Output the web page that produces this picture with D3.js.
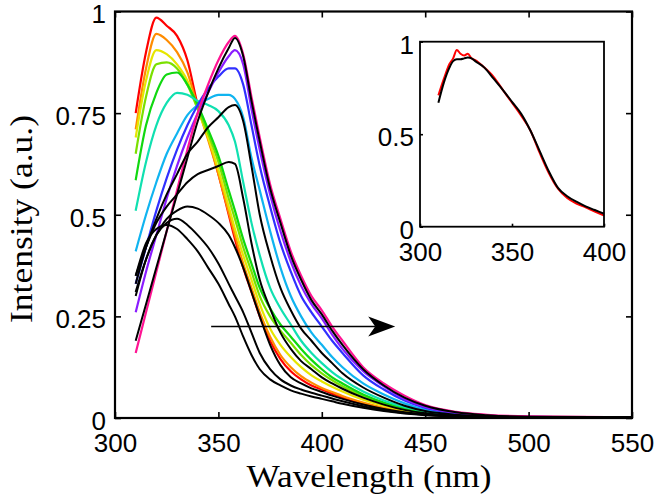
<!DOCTYPE html>
<html><head><meta charset="utf-8">
<script src="https://cdn.jsdelivr.net/npm/d3@7"></script>
<style>body{margin:0;background:#fff}svg{display:block}</style>
</head><body>
<svg id="c" width="657" height="500"></svg>
<script>
// ---------- data ----------
const wavelengths = [310,315,320,325,330,335,340,345,350,355,358,362,366,370,375,380,385,390,395,400,405,410,420,430,440,450,465,480,500,550];
const xTicks = [300,350,400,450,500,550];
const yTicks = [0,0.25,0.5,0.75,1];
const yTickLabels = ["0","0.25","0.5","0.75","1"];

const red     = [0.75,0.90,0.985,0.965,0.94,0.88,0.77,0.69,0.60,0.50,0.44,0.37,0.31,0.25,0.19,0.145,0.115,0.095,0.08,0.07,0.06,0.05,0.035,0.022,0.014,0.009,0.005,0.003,0.002,0.001];
const orange  = [0.71,0.86,0.945,0.93,0.90,0.85,0.765,0.685,0.60,0.505,0.45,0.38,0.32,0.26,0.20,0.155,0.125,0.103,0.087,0.074,0.064,0.054,0.038,0.025,0.016,0.010,0.006,0.003,0.002,0.001];
const yellow  = [0.69,0.83,0.905,0.895,0.87,0.83,0.76,0.69,0.61,0.52,0.465,0.40,0.34,0.28,0.22,0.18,0.15,0.125,0.105,0.09,0.077,0.065,0.045,0.030,0.019,0.012,0.006,0.003,0.002,0.001];
const green1  = [0.65,0.79,0.87,0.875,0.86,0.82,0.76,0.70,0.63,0.54,0.49,0.42,0.36,0.30,0.25,0.215,0.185,0.155,0.13,0.11,0.093,0.078,0.054,0.035,0.022,0.014,0.007,0.004,0.002,0.001];
const green2  = [0.585,0.72,0.80,0.845,0.85,0.82,0.77,0.71,0.645,0.56,0.51,0.44,0.38,0.32,0.27,0.23,0.20,0.17,0.143,0.12,0.10,0.085,0.058,0.038,0.024,0.015,0.008,0.004,0.002,0.001];
const aqua    = [0.51,0.63,0.72,0.775,0.80,0.795,0.78,0.77,0.755,0.72,0.68,0.58,0.48,0.40,0.32,0.27,0.23,0.19,0.16,0.135,0.113,0.095,0.065,0.043,0.027,0.017,0.009,0.004,0.002,0.001];
const sky     = [0.41,0.50,0.58,0.65,0.70,0.745,0.77,0.785,0.795,0.795,0.785,0.74,0.64,0.56,0.46,0.37,0.30,0.25,0.21,0.18,0.15,0.125,0.085,0.058,0.036,0.020,0.010,0.005,0.002,0.001];
const blue    = [0.33,0.42,0.51,0.59,0.66,0.72,0.77,0.81,0.84,0.86,0.86,0.82,0.72,0.62,0.52,0.43,0.36,0.30,0.26,0.225,0.19,0.16,0.105,0.07,0.043,0.025,0.012,0.006,0.003,0.001];
const purple  = [0.26,0.36,0.45,0.54,0.62,0.69,0.75,0.80,0.85,0.89,0.905,0.87,0.76,0.66,0.55,0.46,0.385,0.325,0.28,0.245,0.205,0.17,0.115,0.078,0.047,0.027,0.013,0.006,0.003,0.001];
const magenta = [0.16,0.26,0.36,0.46,0.56,0.66,0.75,0.82,0.88,0.925,0.94,0.895,0.79,0.69,0.575,0.49,0.41,0.35,0.30,0.265,0.225,0.19,0.125,0.085,0.055,0.032,0.015,0.008,0.004,0.002];
const black1  = [0.19,0.28,0.37,0.46,0.55,0.64,0.73,0.80,0.86,0.91,0.935,0.89,0.78,0.68,0.565,0.48,0.40,0.34,0.29,0.255,0.215,0.18,0.12,0.08,0.05,0.03,0.014,0.007,0.003,0.002];
const black2  = [0.33,0.42,0.49,0.55,0.60,0.65,0.68,0.715,0.74,0.765,0.77,0.73,0.62,0.50,0.40,0.32,0.265,0.22,0.19,0.16,0.135,0.11,0.075,0.05,0.03,0.017,0.008,0.004,0.002,0.001];
const black3  = [0.35,0.42,0.48,0.52,0.55,0.58,0.60,0.61,0.62,0.63,0.625,0.54,0.43,0.34,0.27,0.21,0.17,0.14,0.12,0.10,0.085,0.072,0.05,0.033,0.02,0.012,0.006,0.003,0.002,0.001];
const black4  = [0.31,0.39,0.45,0.49,0.51,0.52,0.515,0.50,0.48,0.45,0.42,0.37,0.31,0.25,0.18,0.13,0.10,0.085,0.073,0.064,0.055,0.047,0.033,0.022,0.014,0.009,0.005,0.003,0.002,0.001];
const black5  = [0.30,0.39,0.45,0.48,0.49,0.475,0.45,0.42,0.38,0.33,0.30,0.26,0.21,0.16,0.12,0.095,0.08,0.07,0.062,0.055,0.048,0.041,0.029,0.019,0.012,0.008,0.004,0.002,0.001,0.001];
const black6  = [0.35,0.43,0.465,0.475,0.465,0.44,0.41,0.37,0.33,0.28,0.25,0.20,0.155,0.12,0.095,0.08,0.068,0.06,0.053,0.047,0.041,0.035,0.025,0.017,0.011,0.007,0.004,0.002,0.001,0.001];

const colouredSeries = [red, orange, yellow, green1, green2, aqua, sky, blue, purple, magenta];
const colouredColours = ["#ff0000","#ff8c00","#e6e600","#7be000","#10d810","#10e0b0","#10b4f0","#3030ff","#8a1cff","#ff1493"];
const blackSeries = [black6, black5, black4, black3, black2, black1];

// arrow (data coordinates)
const arrowFrom = [346.5, 0.225];
const arrowTo = [435.5, 0.225];

// inset data
const insetWavelengths = [310,313,316,318,320,322,324,326,328,330,335,340,345,350,355,360,365,370,375,380,385,390,395,400];
const insetRed   = [0.71,0.80,0.88,0.91,0.955,0.935,0.925,0.935,0.91,0.90,0.86,0.81,0.74,0.67,0.60,0.52,0.40,0.29,0.205,0.155,0.125,0.105,0.082,0.06];
const insetBlack = [0.67,0.78,0.86,0.895,0.905,0.905,0.91,0.915,0.91,0.895,0.86,0.80,0.74,0.675,0.61,0.52,0.41,0.30,0.21,0.165,0.135,0.11,0.09,0.07];
const insetXTicks = [300,350,400];
const insetYTicks = [0,0.5,1];
const insetYTickLabels = ["0","0.5","1"];

// ---------- drawing ----------
const svg = d3.select("#c");
const tickFont = "'Liberation Sans', Arial, Helvetica, sans-serif";
const labelFont = "'Liberation Serif', 'Times New Roman', serif";

const L = 115, R = 632, T = 11.5, B = 418;
const x = d3.scaleLinear().domain([300,550]).range([L,R]);
const y = d3.scaleLinear().domain([0,1]).range([B,T]);

const line = d3.line().x(d => x(d[0])).y(d => y(d[1])).curve(d3.curveMonotoneX);
const plot = svg.append("g");
colouredSeries.forEach((s,i) => {
  plot.append("path").datum(wavelengths.map((w,j)=>[w,s[j]]))
    .attr("d", line).attr("fill","none").attr("stroke",colouredColours[i])
    .attr("stroke-width",2.2).attr("stroke-linejoin","round");
});
blackSeries.forEach(s => {
  plot.append("path").datum(wavelengths.map((w,j)=>[w,s[j]]))
    .attr("d", line).attr("fill","none").attr("stroke","#000")
    .attr("stroke-width",2).attr("stroke-linejoin","round");
});

// axes (ticks inward)
function styleAxis(g){ g.select(".domain").remove(); g.selectAll("line").attr("stroke","#000").attr("stroke-width",1.6); }
const gx = svg.append("g").attr("transform",`translate(0,${B})`)
  .call(d3.axisBottom(x).tickValues(xTicks).tickSize(-6).tickPadding(16).tickFormat(d3.format("d")));
styleAxis(gx);
gx.selectAll("text").attr("font-family",tickFont).attr("font-size",26).attr("fill","#000");
const gxt = svg.append("g").attr("transform",`translate(0,${T})`)
  .call(d3.axisTop(x).tickValues(xTicks).tickSize(-6).tickFormat(""));
styleAxis(gxt);
const gy = svg.append("g").attr("transform",`translate(${L},0)`)
  .call(d3.axisLeft(y).tickValues(yTicks).tickSize(-6).tickPadding(9).tickFormat((d,i)=>yTickLabels[i]));
styleAxis(gy);
gy.selectAll("text").attr("font-family",tickFont).attr("font-size",26).attr("fill","#000").attr("dy","0.44em");
const gyr = svg.append("g").attr("transform",`translate(${R},0)`)
  .call(d3.axisRight(y).tickValues(yTicks).tickSize(-6).tickFormat(""));
styleAxis(gyr);
svg.append("rect").attr("x",L).attr("y",T).attr("width",R-L).attr("height",B-T)
  .attr("fill","none").attr("stroke","#000").attr("stroke-width",2.2);

// axis labels
svg.append("text").attr("x",369).attr("y",486.5).attr("text-anchor","middle")
  .attr("font-family",labelFont).attr("font-size",32).attr("fill","#000")
  .attr("textLength",245).attr("lengthAdjust","spacingAndGlyphs").text("Wavelength (nm)");
svg.append("text").attr("transform","translate(31.5,219) rotate(-90)").attr("text-anchor","middle")
  .attr("font-family",labelFont).attr("font-size",32).attr("fill","#000")
  .attr("textLength",208).attr("lengthAdjust","spacingAndGlyphs").text("Intensity (a.u.)");

// arrow
const ax0 = x(arrowFrom[0]), ay = y(arrowFrom[1]), ax1 = x(arrowTo[0]);
svg.append("line").attr("x1",ax0).attr("y1",ay).attr("x2",ax1-20).attr("y2",ay)
  .attr("stroke","#000").attr("stroke-width",1.4);
svg.append("path").attr("d",`M${ax1},${ay} L${ax1-27},${ay-10} L${ax1-20},${ay} L${ax1-27},${ay+10} Z`)
  .attr("fill","#000");

// inset
const iL = 420, iR = 604, iT = 41.7, iB = 226.7;
const ix = d3.scaleLinear().domain([300,400]).range([iL,iR]);
const iy = d3.scaleLinear().domain([0,1]).range([iB,iT]);
svg.append("rect").attr("x",iL).attr("y",iT).attr("width",iR-iL).attr("height",iB-iT).attr("fill","#fff");
const iline = d3.line().x(d=>ix(d[0])).y(d=>iy(d[1])).curve(d3.curveMonotoneX);
svg.append("path").datum(insetWavelengths.map((w,j)=>[w,insetRed[j]])).attr("d",iline)
  .attr("fill","none").attr("stroke","#ff0000").attr("stroke-width",2);
svg.append("path").datum(insetWavelengths.map((w,j)=>[w,insetBlack[j]])).attr("d",iline)
  .attr("fill","none").attr("stroke","#000").attr("stroke-width",2);
const igx = svg.append("g").attr("transform",`translate(0,${iB})`)
  .call(d3.axisBottom(ix).tickValues(insetXTicks).tickSize(-3).tickPadding(16).tickFormat(d3.format("d")));
styleAxis(igx);
igx.selectAll("text").attr("font-family",tickFont).attr("font-size",26).attr("fill","#000");
const igy = svg.append("g").attr("transform",`translate(${iL},0)`)
  .call(d3.axisLeft(iy).tickValues(insetYTicks).tickSize(-3).tickPadding(6).tickFormat((d,i)=>insetYTickLabels[i]));
styleAxis(igy);
igy.selectAll("text").attr("font-family",tickFont).attr("font-size",26).attr("fill","#000").attr("dy","0.44em");
svg.append("rect").attr("x",iL).attr("y",iT).attr("width",iR-iL).attr("height",iB-iT)
  .attr("fill","none").attr("stroke","#000").attr("stroke-width",1.8);
</script>
</body></html>
